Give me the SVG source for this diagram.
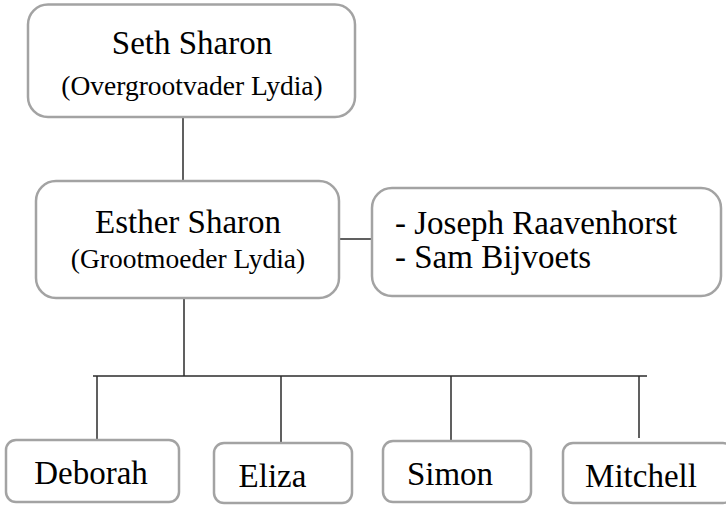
<svg xmlns="http://www.w3.org/2000/svg" width="726" height="505" viewBox="0 0 726 505">
<style>
.box{fill:#ffffff;stroke:#a3a3a3;stroke-width:2.5}
.t{font-family:"Liberation Serif","Times New Roman",serif;font-size:33px;fill:#000}
.s{font-family:"Liberation Serif","Times New Roman",serif;font-size:27.5px;fill:#000}
.c{text-anchor:middle}
.ln{stroke:#2b2b2b;stroke-width:1.5;fill:none}
</style>
<rect width="726" height="505" fill="#ffffff"/>
<g id="connectors">
<line class="ln" x1="183" y1="117" x2="183" y2="181"/>
<line class="ln" x1="339" y1="239" x2="372" y2="239"/>
<line class="ln" x1="184" y1="298" x2="184" y2="376"/>
<line class="ln" x1="93" y1="376" x2="647" y2="376"/>
<line class="ln" x1="97" y1="376" x2="97" y2="443"/>
<line class="ln" x1="281" y1="376" x2="281" y2="444"/>
<line class="ln" x1="451" y1="376" x2="451" y2="444"/>
<line class="ln" x1="639" y1="376" x2="639" y2="438"/>
</g>
<g id="seth">
<rect class="box" x="28" y="4.5" width="327" height="112.5" rx="20"/>
<text class="t c" x="192" y="54">Seth Sharon</text>
<text class="s c" x="192" y="95">(Overgrootvader Lydia)</text>
</g>
<g id="esther">
<rect class="box" x="36" y="181" width="303" height="117" rx="20"/>
<text class="t c" x="188" y="233">Esther Sharon</text>
<text class="s c" x="188" y="268">(Grootmoeder Lydia)</text>
</g>
<g id="partners">
<rect class="box" x="372" y="188" width="349" height="108" rx="20"/>
<text class="t" x="395" y="234">- Joseph Raavenhorst</text>
<text class="t" x="395" y="268">- Sam Bijvoets</text>
</g>
<g id="deborah">
<rect class="box" x="6" y="440" width="173" height="62" rx="10"/>
<text class="t c" x="91" y="484">Deborah</text>
</g>
<g id="eliza">
<rect class="box" x="214" y="443" width="138" height="60" rx="10"/>
<text class="t c" x="272.5" y="487">Eliza</text>
</g>
<g id="simon">
<rect class="box" x="383" y="441" width="148" height="61" rx="10"/>
<text class="t c" x="450" y="485">Simon</text>
</g>
<g id="mitchell">
<rect class="box" x="563" y="443" width="170" height="60" rx="10"/>
<text class="t c" x="641" y="487">Mitchell</text>
</g>
</svg>
